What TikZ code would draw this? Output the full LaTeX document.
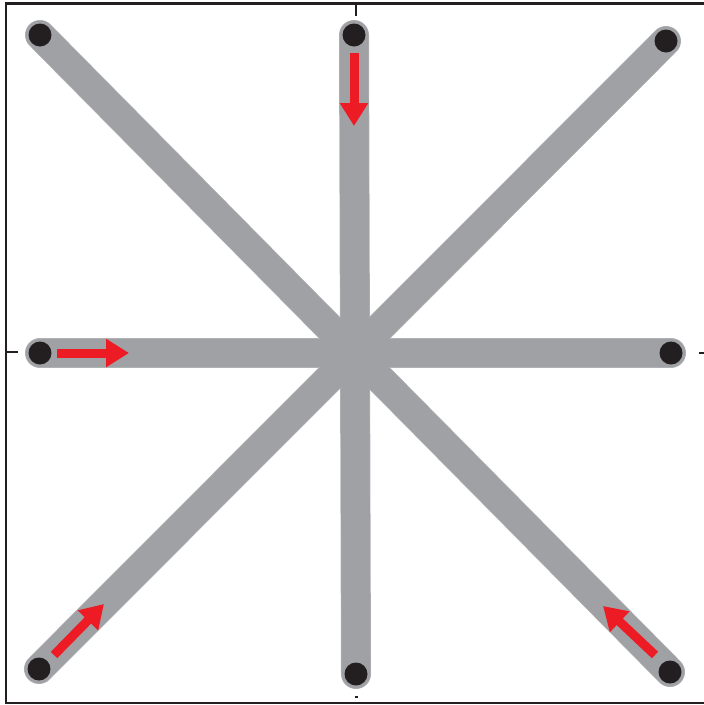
\documentclass[tikz,border=0pt]{standalone}
\usetikzlibrary{arrows.meta}
\definecolor{spoke}{HTML}{A0A1A5}
\definecolor{spokeedge}{HTML}{B0B1B4}
\definecolor{dotc}{HTML}{231F20}
\definecolor{arrowred}{HTML}{ED1C24}
\tikzset{
  frameline/.style={draw=dotc, line width=2.6pt},
  tickline/.style={draw=dotc, line width=2pt},
  spokeunder/.style={draw=spokeedge, line width=30pt, line cap=round},
  spokeline/.style={draw=spoke, line width=28.6pt, line cap=round},
  enddot/.style={circle, fill=dotc, minimum size=23pt, inner sep=0pt},
  redarrow/.style={draw=arrowred, line width=9pt, line cap=butt,
    -{Triangle[length=23pt,width=27pt]}, arrowred}
}
\begin{document}
\begin{tikzpicture}[x=1pt,y=-1pt]
\useasboundingbox (0,0) rectangle (704,705);
\clip (0,0) rectangle (704,705);
% frame and ticks
\draw[frameline] (6,3.5) rectangle (712,703);
\draw[tickline] (356,3.5) -- (356,16);
\draw[tickline] (6,352) -- (18,352);
\draw[tickline] (699,353) -- (706,353);
\draw[tickline] (355,697) -- (358,697);
% end points
\coordinate (tl) at (40,35);
\coordinate (tm) at (354,35);
\coordinate (tr) at (666,41);
\coordinate (ml) at (40,353);
\coordinate (mr) at (671,353);
\coordinate (bl) at (39,669);
\coordinate (bm) at (356,674);
\coordinate (br) at (670,672);
% spokes
\foreach \a/\b in {tl/br, tm/bm, tr/bl, ml/mr}
  \draw[spokeunder] (\a) -- (\b);
\foreach \a/\b in {tl/br, tm/bm, tr/bl, ml/mr}
  \draw[spokeline] (\a) -- (\b);
% dots
\foreach \p in {tl,tm,tr,ml,mr,bl,bm,br}
  \node[enddot] (dot-\p) at (\p) {};
% red arrows
\coordinate (a1s) at (354,53);  \coordinate (a1e) at (354,126);
\coordinate (a2s) at (57,353);  \coordinate (a2e) at (129,353);
\coordinate (a3s) at (54,655);  \coordinate (a3e) at (104,604);
\coordinate (a4s) at (655,655); \coordinate (a4e) at (603,606);
\draw[redarrow] (a1s) -- (a1e);
\draw[redarrow] (a2s) -- (a2e);
\draw[redarrow] (a3s) -- (a3e);
\draw[redarrow] (a4s) -- (a4e);
\end{tikzpicture}
\end{document}
